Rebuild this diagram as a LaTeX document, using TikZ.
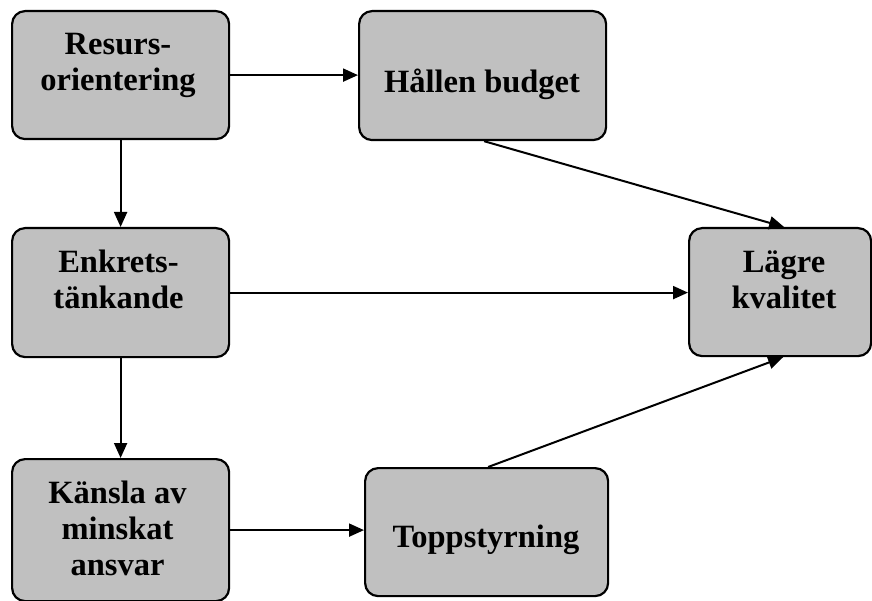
\documentclass[tikz,border=0pt]{standalone}
\usepackage{fontspec}
\setmainfont{Liberation Serif}
\usetikzlibrary{arrows.meta}
\definecolor{boxgray}{HTML}{C0C0C0}
\begin{document}
\begin{tikzpicture}[x=1pt,y=-1pt,
  box/.style={draw=black,line width=2.2pt,fill=boxgray,rounded corners=13pt,inner sep=0pt,anchor=north west},
  lbl/.style={align=center,font=\fontsize{32.5}{36}\selectfont\bfseries,inner sep=0pt},
  conn/.style={line width=2pt,-{Triangle[length=15pt,width=13pt]}}]
\useasboundingbox (0,0) rectangle (872,601);
% boxes
\node[box,minimum width=217pt,minimum height=128pt] (b1) at (11,10) {};
\node[box,minimum width=247pt,minimum height=129pt] (b2) at (358,10) {};
\node[box,minimum width=217pt,minimum height=129pt] (b3) at (11,227) {};
\node[box,minimum width=182pt,minimum height=128pt] (b4) at (688,227) {};
\node[box,minimum width=217pt,minimum height=142pt] (b5) at (11,458) {};
\node[box,minimum width=243pt,minimum height=128pt] (b6) at (364,467) {};
% labels
\node[lbl] (t1) at (118,65.5) {Resurs-\\orientering};
\node[lbl] (t2) at (482,84) {Hållen budget};
\node[lbl] (t3) at (118.5,279.5) {Enkrets-\\tänkande};
\node[lbl] (t4) at (784,280) {Lägre\\kvalitet};
\node[lbl] (t5) at (117.5,528.5) {Känsla av\\minskat\\ansvar};
\node[lbl] (t6) at (486,540) {Toppstyrning};
% connectors
\draw[conn] (b1.east) -- (b1.east -| b2.west);
\draw[conn] (b1.south) -- (b3.north);
\draw[conn] (b3.east) -- (b3.east -| b4.west);
\draw[conn] (b3.south) -- (b5.north);
\draw[conn] (b5.east) -- (b5.east -| b6.west);
\draw[conn] ([xshift=1.5pt]b2.south) -- ([xshift=4pt]b4.north);
\draw[conn] ([xshift=1.5pt]b6.north) -- ([xshift=3pt]b4.south);
\end{tikzpicture}
\end{document}
